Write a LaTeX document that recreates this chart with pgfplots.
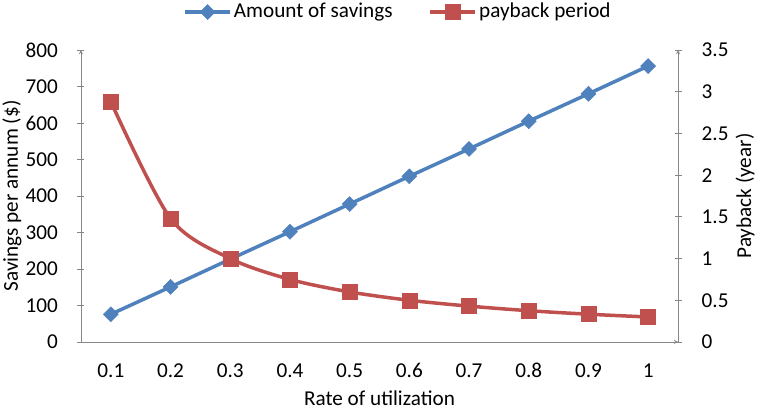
\documentclass[border=0pt]{standalone}
\usepackage{pgfplots}
\pgfplotsset{compat=1.18}
\usepackage{fontspec}
\setmainfont{Carlito}
\definecolor{exblue}{HTML}{4F81BD}
\definecolor{exred}{HTML}{C0504D}
\definecolor{axgray}{HTML}{868686}
\newcommand{\chartfont}{\fontsize{21.2}{25}\selectfont}
\begin{document}
\chartfont
\begin{tikzpicture}
\pgfplotsset{
  common/.style={
    scale only axis, width=597pt, height=292pt,
    xmin=0.5, xmax=10.5,
    axis line style={-, draw=axgray, line width=0.9pt},
    major tick style={draw=axgray, line width=0.9pt},
    major tick length=7pt,
    tick align=outside,
    /pgf/number format/assume math mode=true,
    tick label style={font=\chartfont},
    label style={font=\chartfont},
  },
}
\begin{axis}[common, name=ax,
  axis x line=bottom, axis y line=left,
  ymin=0, ymax=800, ytick={0,100,...,800},
  xtick={1,...,10}, xticklabels={0.1,0.2,0.3,0.4,0.5,0.6,0.7,0.8,0.9,1},
  x tick style={draw=none},
  xticklabel style={anchor=center, yshift=-25pt},
  yticklabel style={anchor=east, inner sep=0pt, xshift=-19.5pt},
  xlabel={Rate of utilization},
  xlabel style={at={(axis description cs:0.5,-0.192)}, anchor=center},
  ylabel={Savings per annum (\$)},
  ylabel style={at={(axis description cs:-0.1156,0.5)}, anchor=center, rotate=0},
  legend style={draw=none, fill=none, at={(0.531,1.13)}, anchor=center,
    legend columns=2, font=\chartfont,
    /tikz/every even column/.append style={column sep=34pt},
    nodes={inner sep=2pt}},
  legend image code/.code={\draw[mark repeat=2, mark phase=2, #1] plot coordinates {(0pt,0pt) (22.5pt,0pt) (45pt,0pt)};},
]
\addplot[exblue, line width=3.5pt, mark=square*, mark size=5.3pt, mark options={rotate=45, line width=0.5pt, fill=exblue, draw=exblue}]
  coordinates {(1,76) (2,151) (3,227) (4,302) (5,378) (6,454) (7,529) (8,605) (9,680) (10,756)};
\addlegendentry{Amount of savings}
\addlegendimage{exred, line width=3.5pt, mark=square*, mark size=7.5pt, mark options={line width=0.5pt, fill=exred, draw=exred}}
\addlegendentry{payback period}
\end{axis}
\begin{axis}[common,
  axis x line=none, axis y line=right,
  ymin=0, ymax=3.5, ytick={0,0.5,...,3.5},
  yticklabel style={anchor=west, inner sep=0pt, xshift=20pt},
  ylabel={Payback (year)},
  ylabel style={at={(axis description cs:1.1122,0.5)}, anchor=center, rotate=0},
]
\addplot[exred, line width=3.5pt, smooth, tension=0.5, mark=square*, mark size=7.5pt, mark options={line width=0.5pt, fill=exred, draw=exred}]
  coordinates {(1,2.88) (2,1.48) (3,1.0) (4,0.75) (5,0.6) (6,0.5) (7,0.43) (8,0.375) (9,0.333) (10,0.3)};
\end{axis}
\pgfresetboundingbox
\path ([xshift=-81pt,yshift=-68pt]ax.south west) rectangle ([xshift=79pt,yshift=50pt]ax.north east);
\end{tikzpicture}
\end{document}
